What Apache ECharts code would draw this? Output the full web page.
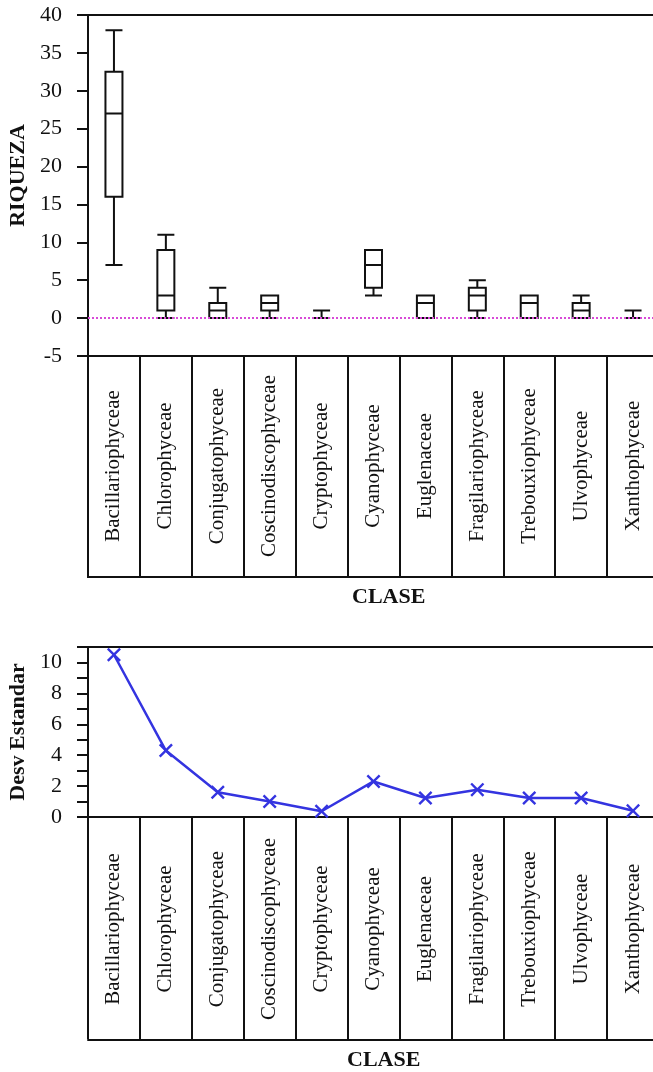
<!DOCTYPE html>
<html>
<head>
<meta charset="utf-8">
<script src="https://cdn.jsdelivr.net/npm/echarts@6/dist/echarts.min.js"></script>
<style>html,body{margin:0;padding:0;background:#fff;}#c{width:653px;height:1072px;}</style>
</head>
<body>
<div id="c"></div>
<script>
var categories = ['Bacillariophyceae','Chlorophyceae','Conjugatophyceae','Coscinodiscophyceae','Cryptophyceae','Cyanophyceae','Euglenaceae','Fragilariophyceae','Trebouxiophyceae','Ulvophyceae','Xanthophyceae'];
// [min, Q1, median, Q3, max]
var riquezaBox = [
  [7, 16, 27, 32.5, 38],
  [0, 1, 3, 9, 11],
  [0, 0, 1, 2, 4],
  [0, 1, 2, 3, 3],
  [0, 0, 0, 0, 1],
  [3, 4, 7, 9, 9],
  [0, 0, 2, 3, 3],
  [0, 1, 3, 4, 5],
  [0, 0, 2, 3, 3],
  [0, 0, 1, 2, 3],
  [0, 0, 0, 0, 1]
];
var desvEstandar = [10.5, 4.3, 1.6, 1.0, 0.37, 2.3, 1.23, 1.77, 1.23, 1.23, 0.4];
var riquezaTicks = {min: -5, max: 40, interval: 5};
var desvTicks = {min: 0, max: 11, interval: 1};

var FONT = 'Liberation Serif';
var LW = 2;
var crossPath = 'path://M0,1.2L1.2,0L5,3.8L8.8,0L10,1.2L6.2,5L10,8.8L8.8,10L5,6.2L1.2,10L0,8.8L3.8,5Z';

var chart = echarts.init(document.getElementById('c'), null, {renderer: 'canvas'});

function catAxis(gridIndex, margin) {
  return {
    type: 'category', gridIndex: gridIndex, data: categories,
    position: 'bottom',
    axisLine: {show: true, onZero: false, lineStyle: {color: '#111', width: LW}},
    axisTick: {show: true, length: 222, alignWithLabel: false, lineStyle: {color: '#111', width: LW}},
    axisLabel: {show: true, rotate: 90, margin: margin, align: 'center', verticalAlign: 'middle',
      color: '#111', fontFamily: FONT, fontSize: 21, interval: 0},
    splitLine: {show: false}
  };
}
function baseAxis(gridIndex) {
  return {
    type: 'category', gridIndex: gridIndex, data: categories, position: 'bottom',
    axisLine: {show: true, onZero: false, lineStyle: {color: '#111', width: LW}},
    axisTick: {show: false}, axisLabel: {show: false}, splitLine: {show: false}
  };
}

var option = {
  backgroundColor: '#fff',
  animation: false,
  title: [
    {text: 'CLASE', left: 352, top: 586, padding: 0,
      textStyle: {fontFamily: FONT, fontSize: 22, fontWeight: 'bold', color: '#111'}},
    {text: 'CLASE', left: 347, top: 1049, padding: 0,
      textStyle: {fontFamily: FONT, fontSize: 22, fontWeight: 'bold', color: '#111'}}
  ],
  grid: [
    {left: 88, top: 15, height: 341, right: -6, show: true, borderColor: '#111', borderWidth: LW, outerBoundsMode: 'none', containLabel: false},
    {left: 88, top: 356, height: 221, right: -6, show: false, outerBoundsMode: 'none', containLabel: false},
    {left: 88, top: 647, height: 170, right: -6, show: true, borderColor: '#111', borderWidth: LW, outerBoundsMode: 'none', containLabel: false},
    {left: 88, top: 818, height: 222, right: -6, show: false, outerBoundsMode: 'none', containLabel: false}
  ],
  xAxis: [
    catAxis(0, 110),
    baseAxis(1),
    catAxis(2, 112),
    baseAxis(3)
  ],
  yAxis: [
    {type: 'value', gridIndex: 0, min: riquezaTicks.min, max: riquezaTicks.max, interval: riquezaTicks.interval,
      name: 'RIQUEZA', nameLocation: 'middle', nameGap: 58,
      nameTextStyle: {fontFamily: FONT, fontSize: 22, fontWeight: 'bold', color: '#111', padding: [0, 0, 0, 20]},
      axisLine: {show: true, lineStyle: {color: '#111', width: LW}},
      axisTick: {show: true, length: 11, lineStyle: {color: '#111', width: LW}},
      axisLabel: {color: '#111', fontFamily: FONT, fontSize: 22, margin: 26},
      splitLine: {show: false}},
    {type: 'value', gridIndex: 1, min: 0, max: 1, show: false},
    {type: 'value', gridIndex: 2, min: desvTicks.min, max: desvTicks.max, interval: desvTicks.interval,
      name: 'Desv Estandar', nameLocation: 'middle', nameGap: 58,
      nameTextStyle: {fontFamily: FONT, fontSize: 22, fontWeight: 'bold', color: '#111'},
      axisLine: {show: true, lineStyle: {color: '#111', width: LW}},
      axisTick: {show: true, length: 11, lineStyle: {color: '#111', width: LW}},
      axisLabel: {color: '#111', fontFamily: FONT, fontSize: 22, margin: 26,
        formatter: function (v) { return (v % 2 === 0 && v <= 10) ? String(v) : ''; }},
      splitLine: {show: false}},
    {type: 'value', gridIndex: 3, min: 0, max: 1, show: false}
  ],
  series: [
    {type: 'boxplot', xAxisIndex: 0, yAxisIndex: 0, data: riquezaBox,
      boxWidth: [17, 17],
      itemStyle: {color: 'rgba(255,255,255,0)', borderColor: '#111', borderWidth: LW},
      markLine: {silent: true, symbol: 'none', label: {show: false},
        lineStyle: {color: '#d84ad8', type: 'dotted', width: 2},
        data: [{yAxis: 0}]}
    },
    {type: 'line', xAxisIndex: 2, yAxisIndex: 2, data: desvEstandar,
      symbol: crossPath, symbolSize: 14,
      lineStyle: {color: '#3434e0', width: 2.5},
      itemStyle: {color: '#3434e0'}
    }
  ]
};
chart.setOption(option);
</script>
</body>
</html>
